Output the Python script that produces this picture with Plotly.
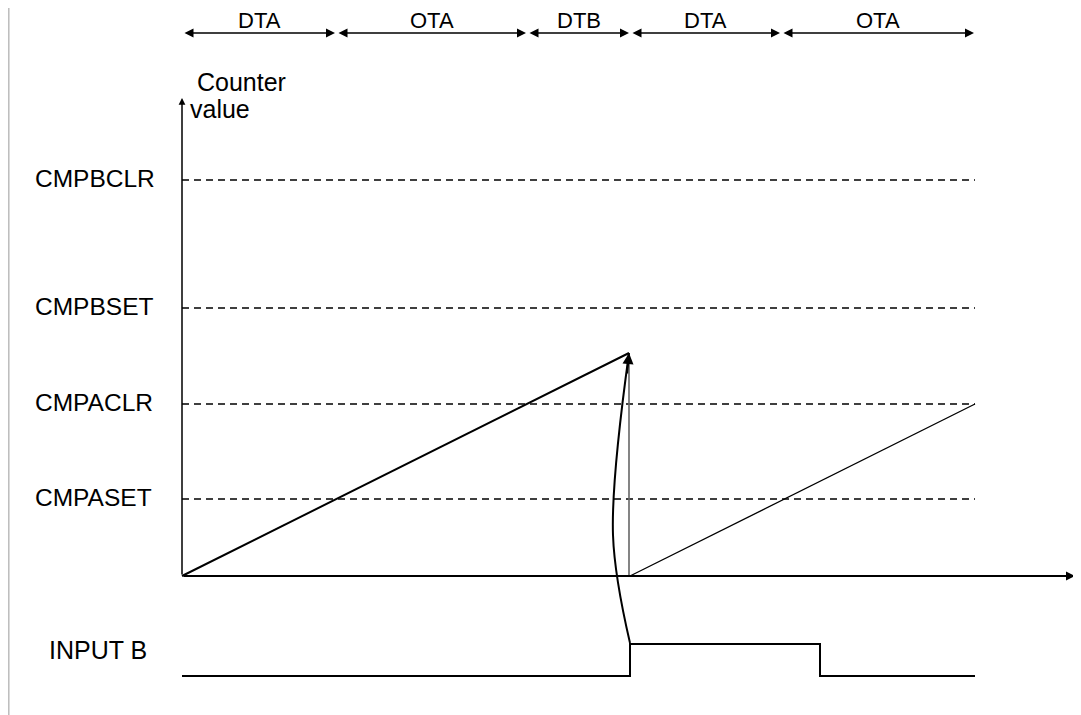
import plotly.graph_objects as go

FONT = "Arial, 'Liberation Sans', sans-serif"

# time axis: 0 = counter start
PHASE_T = [0, 154, 345, 448, 599, 793]
PHASE_LABELS = ["DTA", "OTA", "DTB", "DTA", "OTA"]

LEVEL_NAMES = ["CMPASET", "CMPACLR", "CMPBSET", "CMPBCLR"]
LEVEL_VALUES = [77, 172, 268, 396]

# counter: counts up, reset by INPUT B, counts up again
RAMP1_T = [0, 447]
RAMP1_V = [0, 223]
RESET_T = [447, 447]
RESET_V = [223, 0]
RAMP2_T = [448, 793]
RAMP2_V = [0, 172]

INPUT_B_T = [0, 448, 448, 638, 638, 793]
INPUT_B_V = [0, 0, 1, 1, 0, 0]

# connector from INPUT B rising edge to the counter peak
LINK_T = [448, 431, 447]
LINK_V = [-67, 41, 223]

X_AXIS_END = 893
Y_AXIS_END = 478
PHASE_ARROW_Y = 543
PHASE_LABEL_Y = 556

fig = go.Figure()

# compare levels
for name, val in zip(LEVEL_NAMES, LEVEL_VALUES):
    fig.add_trace(
        go.Scatter(
            x=[PHASE_T[0], PHASE_T[-1]],
            y=[val, val],
            mode="lines",
            line={"color": "black", "width": 1.5, "dash": "7px,5px"},
        )
    )
    fig.add_annotation(
        x=-149, y=val + 2, text=name, showarrow=False,
        xanchor="left", yanchor="middle",
        font={"size": 24.5, "color": "black"},
    )

fig.add_trace(go.Scatter(x=RAMP1_T, y=RAMP1_V, mode="lines",
                         line={"color": "black", "width": 2}))
fig.add_trace(go.Scatter(x=RESET_T, y=RESET_V, mode="lines",
                         line={"color": "#666666", "width": 1.6}))
fig.add_trace(go.Scatter(x=RAMP2_T, y=RAMP2_V, mode="lines",
                         line={"color": "black", "width": 1.3}))
fig.add_trace(go.Scatter(x=LINK_T, y=LINK_V, mode="lines",
                         line={"color": "black", "width": 2, "shape": "spline"}))
fig.add_trace(go.Scatter(x=INPUT_B_T, y=INPUT_B_V, mode="lines", yaxis="y2",
                         line={"color": "black", "width": 2}))

# arrowhead on connector
fig.add_annotation(
    x=LINK_T[-1], y=LINK_V[-1], ax=LINK_T[-1] - 2, ay=LINK_V[-1] - 22,
    xref="x", yref="y", axref="x", ayref="y", text="", showarrow=True,
    arrowhead=2, arrowsize=1.1, arrowwidth=2, arrowcolor="black",
)

# axes with arrows
fig.add_annotation(
    x=X_AXIS_END, y=0, ax=0, ay=0, xref="x", yref="y", axref="x", ayref="y",
    text="", showarrow=True, arrowhead=2, arrowsize=0.9, arrowwidth=2, arrowcolor="black",
)
fig.add_annotation(
    x=0, y=Y_AXIS_END, ax=0, ay=0, xref="x", yref="y", axref="x", ayref="y",
    text="", showarrow=True, arrowhead=2, arrowsize=0.9, arrowwidth=1.5, arrowcolor="black",
)
fig.add_annotation(x=13, y=494, text="Counter", showarrow=False,
                   xanchor="left", yanchor="middle", font={"size": 25, "color": "black"})
fig.add_annotation(x=6, y=467, text="value", showarrow=False,
                   xanchor="left", yanchor="middle", font={"size": 25, "color": "black"})

# phase arrows on top
for i, label in enumerate(PHASE_LABELS):
    t0, t1 = PHASE_T[i], PHASE_T[i + 1]
    fig.add_annotation(
        x=t1, y=PHASE_ARROW_Y, ax=t0, ay=PHASE_ARROW_Y,
        xref="x", yref="y", axref="x", ayref="y", text="", showarrow=True,
        arrowhead=2, startarrowhead=2, arrowside="end+start",
        arrowsize=1.2, startarrowsize=1.2, arrowwidth=1.5, arrowcolor="black",
        standoff=1, startstandoff=1,
    )
    fig.add_annotation(
        x=(t0 + t1) / 2, y=PHASE_LABEL_Y, text=label, showarrow=False,
        yanchor="middle", font={"size": 22, "color": "black"},
    )

fig.add_annotation(x=-135, y=0.8, yref="y2", text="INPUT B", showarrow=False,
                   xanchor="left", yanchor="middle", font={"size": 25, "color": "black"})

# left page border
fig.add_shape(type="line", x0=-173.2, x1=-173.2, y0=0, y1=1, xref="x", yref="paper",
              line={"color": "#bbbbbb", "width": 1.5})

# ranges offset by the 8px page margin around the plot div
fig.update_layout(
    width=1081,
    height=715,
    margin={"l": 0, "r": 0, "t": 0, "b": 0},
    paper_bgcolor="white",
    plot_bgcolor="white",
    showlegend=False,
    hovermode=False,
    font={"family": FONT},
    xaxis={"range": [-174, 907], "visible": False, "fixedrange": True},
    yaxis={"range": [-147, 568], "visible": False, "fixedrange": True},
    yaxis2={"range": [-1.469, 20.875], "overlaying": "y", "visible": False, "fixedrange": True},
)

fig.write_html("out.html")
